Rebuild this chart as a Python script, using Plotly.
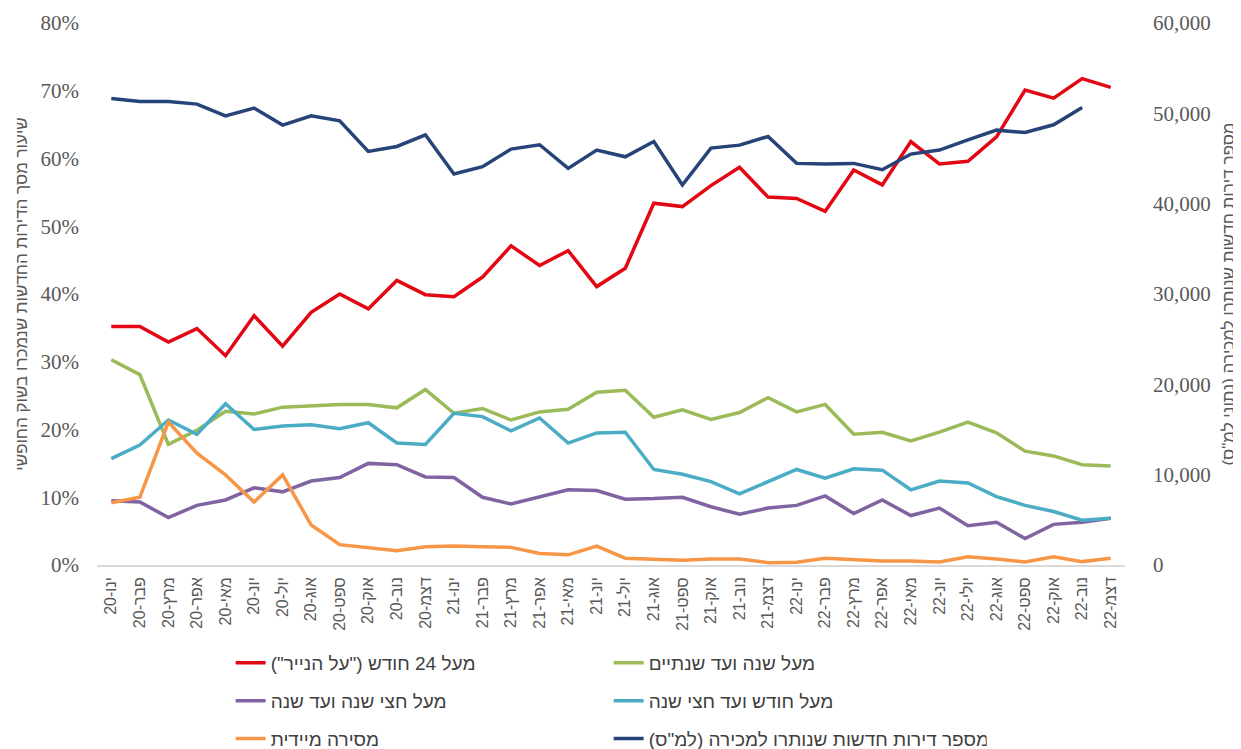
import plotly.graph_objects as go

months = [
    "ינו-20", "פבר-20", "מרץ-20", "אפר-20", "מאי-20", "יונ-20", "יול-20", "אוג-20",
    "ספט-20", "אוק-20", "נוב-20", "דצמ-20",
    "ינו-21", "פבר-21", "מרץ-21", "אפר-21", "מאי-21", "יונ-21", "יול-21", "אוג-21",
    "ספט-21", "אוק-21", "נוב-21", "דצמ-21",
    "ינו-22", "פבר-22", "מרץ-22", "אפר-22", "מאי-22", "יונ-22", "יולי-22", "אוג-22",
    "ספט-22", "אוק-22", "נוב-22", "דצמ-22",
]

# shares (%) of new homes sold on the free market
over_24m = [35.2, 35.2, 32.9, 34.9, 30.9, 36.8, 32.3, 37.3, 40.0, 37.8, 42.0, 39.9,
            39.6, 42.5, 47.1, 44.2, 46.4, 41.1, 43.8, 53.4, 52.9, 56.0, 58.7, 54.3,
            54.1, 52.2, 58.3, 56.1, 62.5, 59.2, 59.6, 63.2, 70.1, 68.9, 71.8, 70.5]
year_to_2y = [30.3, 28.1, 17.8, 19.9, 22.7, 22.3, 23.3, 23.5, 23.7, 23.7, 23.2, 25.9,
              22.4, 23.1, 21.4, 22.6, 23.0, 25.5, 25.8, 21.8, 22.9, 21.5, 22.5, 24.7,
              22.6, 23.7, 19.3, 19.6, 18.3, 19.6, 21.1, 19.5, 16.8, 16.1, 14.8, 14.6]
half_to_year = [9.5, 9.3, 7.0, 8.8, 9.6, 11.4, 10.8, 12.4, 12.9, 15.0, 14.8, 13.0,
                12.9, 10.0, 9.0, 10.0, 11.1, 11.0, 9.7, 9.8, 10.0, 8.6, 7.5, 8.4,
                8.8, 10.2, 7.6, 9.6, 7.3, 8.4, 5.8, 6.3, 3.9, 6.0, 6.3, 6.9]
month_to_half = [15.7, 17.7, 21.4, 19.3, 23.8, 20.0, 20.5, 20.7, 20.1, 21.0, 18.0, 17.8,
                 22.4, 21.9, 19.8, 21.7, 18.0, 19.5, 19.6, 14.1, 13.4, 12.3, 10.5, 12.3,
                 14.1, 12.8, 14.2, 14.0, 11.1, 12.4, 12.1, 10.1, 8.8, 7.9, 6.6, 6.9]
immediate = [9.2, 10.0, 21.1, 16.5, 13.3, 9.3, 13.3, 5.9, 3.0, 2.5, 2.1, 2.7,
             2.8, 2.7, 2.6, 1.7, 1.5, 2.8, 1.0, 0.85, 0.7, 0.9, 0.9, 0.35,
             0.4, 1.0, 0.8, 0.6, 0.6, 0.45, 1.2, 0.9, 0.45, 1.2, 0.5, 1.0]

# unsold new homes (CBS), right axis
unsold = [51640, 51300, 51300, 51020, 49720, 50580, 48700, 49720, 49170, 45780, 46330, 47620,
          43280, 44090, 46040, 46520, 43900, 45930, 45190, 46890, 42060, 46150, 46480, 47440,
          44460, 44380, 44460, 43760, 45490, 45930, 47070, 48140, 47880, 48730, 50650, None]

series = [
    ("מעל 24 חודש (\"על הנייר\")", over_24m, "#e30613", "legend"),
    ("מעל שנה ועד שנתיים", year_to_2y, "#9bbb59", "legend"),
    ("מעל חצי שנה ועד שנה", half_to_year, "#8064a2", "legend2"),
    ("מעל חודש ועד חצי שנה", month_to_half, "#4bacc6", "legend2"),
    ("מסירה מיידית", immediate, "#f79646", "legend3"),
]

fig = go.Figure()
for name, vals, color, leg in series:
    fig.add_trace(go.Scatter(
        x=months, y=[v / 100 for v in vals], name=name, mode="lines",
        line=dict(color=color, width=3.5), legend=leg,
    ))
fig.add_trace(go.Scatter(
    x=months, y=unsold, name="מספר דירות חדשות שנותרו למכירה (למ\"ס)", mode="lines",
    line=dict(color="#264478", width=3.5), yaxis="y2", legend="legend3",
))

tick_font = dict(family="Liberation Serif", size=21, color="#595959")
title_font = dict(family="Liberation Sans", size=17, color="#595959")
# one legend per row so the row spacing matches the original
leg_common = dict(orientation="h", xanchor="left", yanchor="middle", yref="container",
                  font=dict(family="Liberation Sans", size=19, color="#404040"),
                  entrywidth=333, entrywidthmode="pixels", bgcolor="rgba(0,0,0,0)")

# the page body keeps its default 8px margin, so the figure is 8px smaller
fig.update_layout(
    width=1233, height=741,
    margin=dict(l=89, r=116, t=15, b=184),
    plot_bgcolor="white", paper_bgcolor="white",
    font=dict(family="Liberation Sans"),
    xaxis=dict(
        type="category", tickangle=-90, showgrid=False, showline=True,
        linecolor="#d9d9d9", linewidth=1.5, ticks="", automargin=False,
        tickfont=dict(family="Liberation Sans", size=16, color="#595959"),
        range=[-0.5, 35.5], ticklabelstandoff=4,
    ),
    yaxis=dict(
        range=[0, 0.8], dtick=0.1, tickformat=".0%", showgrid=False,
        zeroline=False, tickfont=tick_font, ticks="", automargin=False,
        ticklabelstandoff=17,
        title=dict(text="שיעור מסך הדירות החדשות שנמכרו בשוק החופשי",
                   font=title_font, standoff=8),
    ),
    yaxis2=dict(
        overlaying="y", side="right", range=[0, 60000], dtick=10000,
        tickformat=",", showgrid=False, zeroline=False, tickfont=tick_font, ticks="",
        automargin=False, ticklabelstandoff=27,
        title=dict(text="מספר דירות חדשות שנותרו למכירה (נתוני למ\"ס)",
                   font=title_font, standoff=12),
    ),
    legend=dict(x=0.13, y=0.1161, **leg_common),
    legend2=dict(x=0.13, y=0.0648, **leg_common),
    legend3=dict(x=0.13, y=0.0140, **leg_common),
)

fig.write_html("out.html")
